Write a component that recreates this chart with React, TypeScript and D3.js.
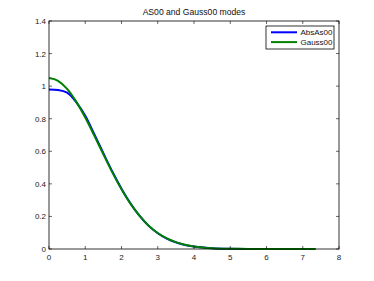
import { useEffect, useRef } from 'react';
import * as d3 from 'd3';

// x positions sampled from the plot
const xs = [0, 0.25, 0.5, 0.75, 1, 1.25, 1.5, 1.75, 2, 2.25, 2.5, 2.75, 3, 3.25, 3.5, 3.75, 4, 4.5, 5, 5.5, 6, 6.5, 7, 7.35];
const absAs00 = [0.98, 0.976, 0.96, 0.902, 0.818, 0.705, 0.588, 0.474, 0.37, 0.279, 0.203, 0.142, 0.097, 0.064, 0.041, 0.025, 0.015, 0.005, 0.0015, 0.0004, 0.0001, 0, 0, 0];
const gauss00 = [1.05, 1.033, 0.983, 0.905, 0.807, 0.696, 0.581, 0.469, 0.367, 0.277, 0.203, 0.143, 0.098, 0.065, 0.042, 0.026, 0.016, 0.005, 0.0015, 0.0005, 0.0001, 0, 0, 0];
const xTicks = [0, 1, 2, 3, 4, 5, 6, 7, 8];
const yTicks = [0, 0.2, 0.4, 0.6, 0.8, 1, 1.2, 1.4];
const seriesNames = ['AbsAs00', 'Gauss00'];
const seriesColors = ['#0000ff', '#008000'];

export default function App() {
    const ref = useRef<SVGSVGElement>(null);

    useEffect(() => {
        if (!ref.current) return;
        const svg = d3.select(ref.current);
        svg.selectAll('*').remove();

        const left = 49, right = 339, top = 21, bottom = 249;
        const font = 'Liberation Sans, Arial, sans-serif';

        const x = d3.scaleLinear().domain([0, 8]).range([left, right]);
        const y = d3.scaleLinear().domain([0, 1.4]).range([bottom, top]);

        svg.append('rect').attr('width', 374).attr('height', 281).attr('fill', '#fff');

        // curves
        const line = d3.line<number>()
            .x((_, i) => x(xs[i]))
            .y(d => y(d))
            .curve(d3.curveMonotoneX);

        [absAs00, gauss00].forEach((s, i) => {
            svg.append('path')
                .attr('d', line(s)!)
                .attr('fill', 'none')
                .attr('stroke', seriesColors[i])
                .attr('stroke-width', 2);
        });

        // box
        svg.append('rect')
            .attr('x', left).attr('y', top)
            .attr('width', right - left).attr('height', bottom - top)
            .attr('fill', 'none').attr('stroke', '#000').attr('stroke-width', 0.8);

        const tl = 3;
        xTicks.forEach(t => {
            svg.append('line').attr('x1', x(t)).attr('x2', x(t)).attr('y1', bottom).attr('y2', bottom - tl)
                .attr('stroke', '#000').attr('stroke-width', 0.6);
            svg.append('line').attr('x1', x(t)).attr('x2', x(t)).attr('y1', top).attr('y2', top + tl)
                .attr('stroke', '#000').attr('stroke-width', 0.6);
            svg.append('text').attr('x', x(t)).attr('y', bottom + 11)
                .attr('text-anchor', 'middle').attr('font-family', font).attr('font-size', 8)
                .attr('fill', '#222').text(t);
        });
        yTicks.forEach(t => {
            svg.append('line').attr('x1', left).attr('x2', left + tl).attr('y1', y(t)).attr('y2', y(t))
                .attr('stroke', '#000').attr('stroke-width', 0.6);
            svg.append('line').attr('x1', right).attr('x2', right - tl).attr('y1', y(t)).attr('y2', y(t))
                .attr('stroke', '#000').attr('stroke-width', 0.6);
            svg.append('text').attr('x', left - 3).attr('y', y(t) + 3)
                .attr('text-anchor', 'end').attr('font-family', font).attr('font-size', 8)
                .attr('fill', '#222').text(String(t));
        });

        // title
        svg.append('text').attr('x', (left + right) / 2).attr('y', 15)
            .attr('text-anchor', 'middle').attr('font-family', font).attr('font-size', 8.6)
            .attr('fill', '#111').text('AS00 and Gauss00 modes');

        // legend
        const lg = svg.append('g');
        lg.append('rect').attr('x', 266).attr('y', 26).attr('width', 68).attr('height', 23)
            .attr('fill', '#fff').attr('stroke', '#000').attr('stroke-width', 0.8);
        seriesNames.forEach((n, i) => {
            const ly = 32.3 + i * 9.8;
            lg.append('line').attr('x1', 271).attr('x2', 297).attr('y1', ly).attr('y2', ly)
                .attr('stroke', seriesColors[i]).attr('stroke-width', 2);
            lg.append('text').attr('x', 300.5).attr('y', ly + 3).attr('font-family', font)
                .attr('font-size', 8).attr('fill', '#111').text(n);
        });
    }, []);

    return (
        <svg ref={ref} width={374} height={281}
            style={{ position: 'absolute', left: 0, top: 0, display: 'block' }} />
    );
}
